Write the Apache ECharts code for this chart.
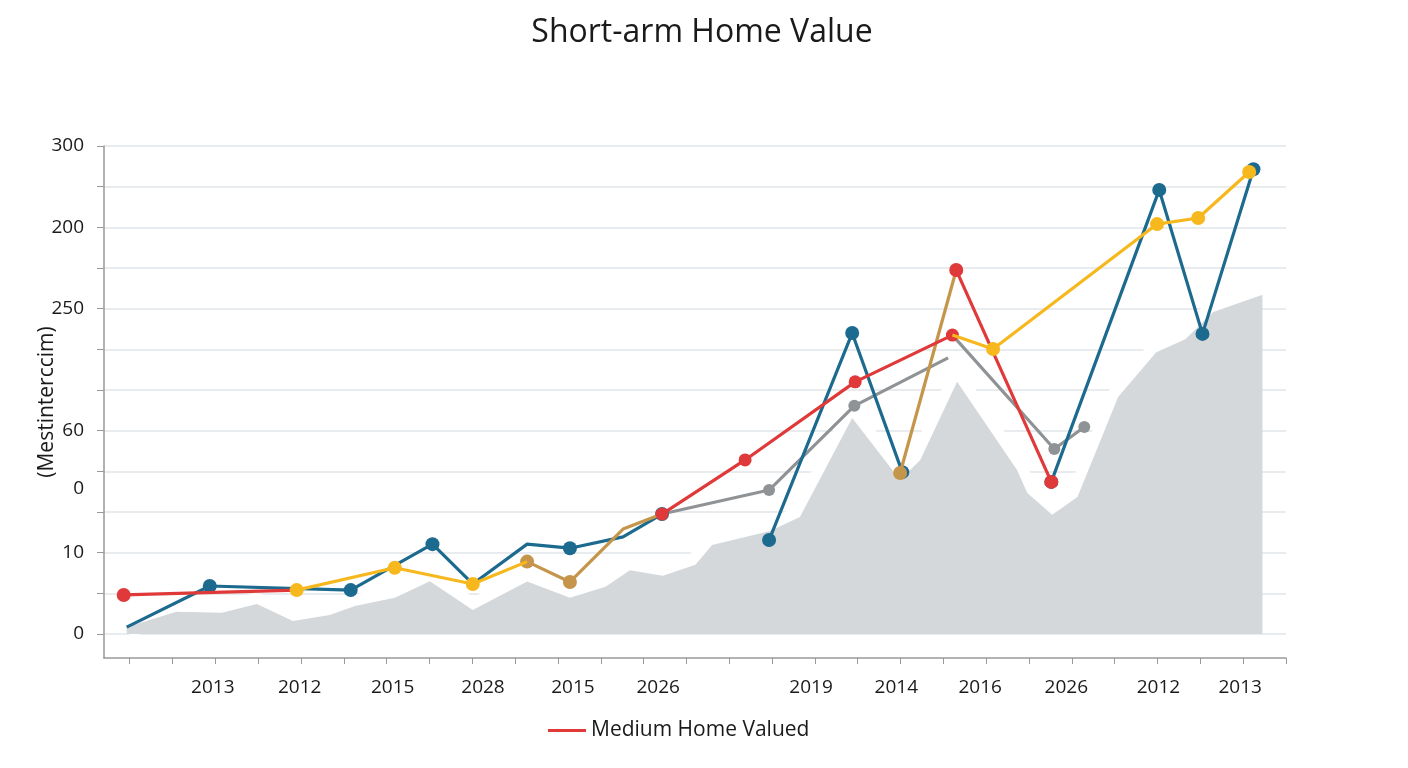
<!DOCTYPE html>
<html><head><meta charset="utf-8">
<script src="https://cdn.jsdelivr.net/npm/echarts@6.0.0/dist/echarts.min.js"></script>
<style>html,body{margin:0;padding:0;background:#fff}#c{width:1408px;height:768px}</style>
</head><body><div id="c"></div>
<script>
// ---- axis ticks / labels ----
const xTicks = [0,1,2,3,4,5,6,7,8,9,10,11,12,13,14,15,16,17,18,19,20,21,22,23,24,25,26,27];
const xLabelPos = [1.94,3.97,6.14,8.25,10.35,12.34,15.91,17.9,19.86,21.87,24.02,25.93];
const xLabels = ['2013','2012','2015','2028','2015','2026','2019','2014','2016','2026','2012','2013'];
const yTicks = [0,1,2,3,4,5,6,7,8,9,10,11,12];
const yLabelPos = [0,2,3.57,5,8,10,12];
const yLabels = ['0','10','0','60','250','200','300'];

// ---- series values [period index, value] ----
const areaBand = [[-0.07,0.17],[1.09,0.55],[2.15,0.52],[2.97,0.74],[3.81,0.32],[4.67,0.47],[5.26,0.69],[6.19,0.89],[7.01,1.30],[8.01,0.59],[9.28,1.29],[10.28,0.89],[11.11,1.16],[11.68,1.57],[12.45,1.43],[13.21,1.70],[13.6,2.19],[14.95,2.53],[15.65,2.88],[16.87,5.31],[17.99,3.79],[18.46,4.28],[19.32,6.20],[20.72,4.03],[20.96,3.47],[21.54,2.93],[22.13,3.37],[23.08,5.83],[23.97,6.93],[24.65,7.25],[25.30,7.92],[26.45,8.34]];

const grayA = [[12.43,2.95],[14.93,3.54],[16.92,5.61],[19.11,6.79]];
const grayB = [[19.21,7.35],[21.59,4.55],[22.29,5.09]];

const blueA = [[-0.07,0.17],[1.87,1.18],[5.16,1.08],[7.07,2.21],[8.01,1.23],[9.28,2.21],[10.28,2.11],[11.52,2.39],[12.43,2.95]];
const blueB = [[14.93,2.31],[16.87,7.40],[18.04,3.98]];
const blueC = [[21.52,3.74],[24.04,10.92],[25.05,7.38],[26.24,11.43]];

const brownA = [[9.28,1.78],[10.28,1.28],[11.52,2.58],[12.43,2.95]];
const brownB = [[17.99,3.96],[19.30,8.95]];

const redA = [[-0.14,0.96],[3.90,1.08]];
const redB = [[12.43,2.95],[14.37,4.28],[16.94,6.20],[19.21,7.35]];
const redC = [[19.30,8.95],[21.52,3.74]];

const yellowA = [[3.90,1.08],[6.19,1.63],[8.01,1.23],[9.28,1.78]];
const yellowB = [[19.21,7.35],[20.16,7.01],[23.99,10.08],[24.95,10.23],[26.14,11.36]];

const legendName = 'Medium Home Valued';

function line(name, data, color, hide, z, size) {
  return {
    type: 'line', name: name, data: data, z: z,
    xAxisIndex: 0, yAxisIndex: 0,
    symbol: function (v, p) { return hide.indexOf(p.dataIndex) >= 0 ? 'none' : 'circle'; },
    symbolSize: size, showSymbol: true,
    lineStyle: { color: color, width: 3.2 },
    itemStyle: { color: color, borderWidth: 0 },
    emphasis: { disabled: true }, animation: false
  };
}

const chart = echarts.init(document.getElementById('c'), null, { renderer: 'canvas' });
const FONT = 'Open Sans';
chart.setOption({
  backgroundColor: '#ffffff',
  animation: false,
  title: {
    text: 'Short-arm Home Value', left: 697, top: 12, textAlign: 'center',
    textStyle: { fontFamily: FONT, fontSize: 32, fontWeight: 'normal', color: '#1a1a1a' }
  },
  legend: {
    data: [legendName], left: 543, top: 715, icon: 'rect', itemWidth: 38, itemHeight: 3, itemGap: 10,
    textStyle: { fontFamily: FONT, fontSize: 21, color: '#1a1a1a' }
  },
  grid: { left: 104, right: 122, top: 146, bottom: 110 },
  xAxis: {
    type: 'value', min: -0.6, max: 27,
    axisLine: { show: true, onZero: false, lineStyle: { color: '#999', width: 1.5 } },
    axisTick: { show: true, customValues: xTicks, length: 6, lineStyle: { color: '#999' } },
    axisLabel: {
      customValues: xLabelPos, margin: 20,
      formatter: function (v) { const i = xLabelPos.indexOf(v); return i >= 0 ? xLabels[i] : ''; },
      fontFamily: FONT, fontSize: 19, color: '#1a1a1a'
    },
    splitLine: { show: false }
  },
  yAxis: {
    type: 'value', min: -0.59, max: 12,
    name: '(Mestinterccim)', nameLocation: 'middle', nameRotate: 90, nameGap: 46,
    nameMoveOverlap: false,
    nameTextStyle: { fontFamily: FONT, fontSize: 21, color: '#1a1a1a' },
    axisLine: { show: true, onZero: false, lineStyle: { color: '#999', width: 1.5 } },
    axisTick: { show: true, inside: false, customValues: yTicks, length: 7, lineStyle: { color: '#999' } },
    axisLabel: {
      customValues: yLabelPos, margin: 20,
      formatter: function (v) { const i = yLabelPos.indexOf(v); return i >= 0 ? yLabels[i] : ''; },
      fontFamily: FONT, fontSize: 19, color: '#1a1a1a'
    },
    splitLine: { show: true, lineStyle: { color: '#e2e6e8', width: 1.5 } }
  },
  series: [
    { type: 'line', name: 'halo', data: areaBand, z: 1, symbol: 'none', silent: true,
      lineStyle: { color: '#ffffff', width: 22 }, animation: false },
    { type: 'line', name: 'band', data: areaBand, z: 2, symbol: 'none', silent: true,
      lineStyle: { width: 0, opacity: 0 }, areaStyle: { color: '#d4d8db', opacity: 1 }, animation: false },
    line('GrayA', grayA, '#909396', [0, 3], 3, 12),
    line('GrayB', grayB, '#909396', [0], 3, 12),
    line('BlueA', blueA, '#1d6a8f', [0, 4, 5, 7], 4, 14),
    line('BlueB', blueB, '#1d6a8f', [], 4, 14),
    line('BlueC', blueC, '#1d6a8f', [], 4, 14),
    line('BrownA', brownA, '#c4954a', [2, 3], 5, 14),
    line('BrownB', brownB, '#c4954a', [1], 5, 14),
    line(legendName, redA, '#e0393a', [1], 6, 14),
    line(legendName, redB, '#e0393a', [], 6, 13),
    line(legendName, redC, '#e0393a', [], 6, 14),
    line('YellowA', yellowA, '#f6b81d', [3], 7, 14),
    line('YellowB', yellowB, '#f6b81d', [0], 7, 14)
  ]
});
</script>
</body></html>
